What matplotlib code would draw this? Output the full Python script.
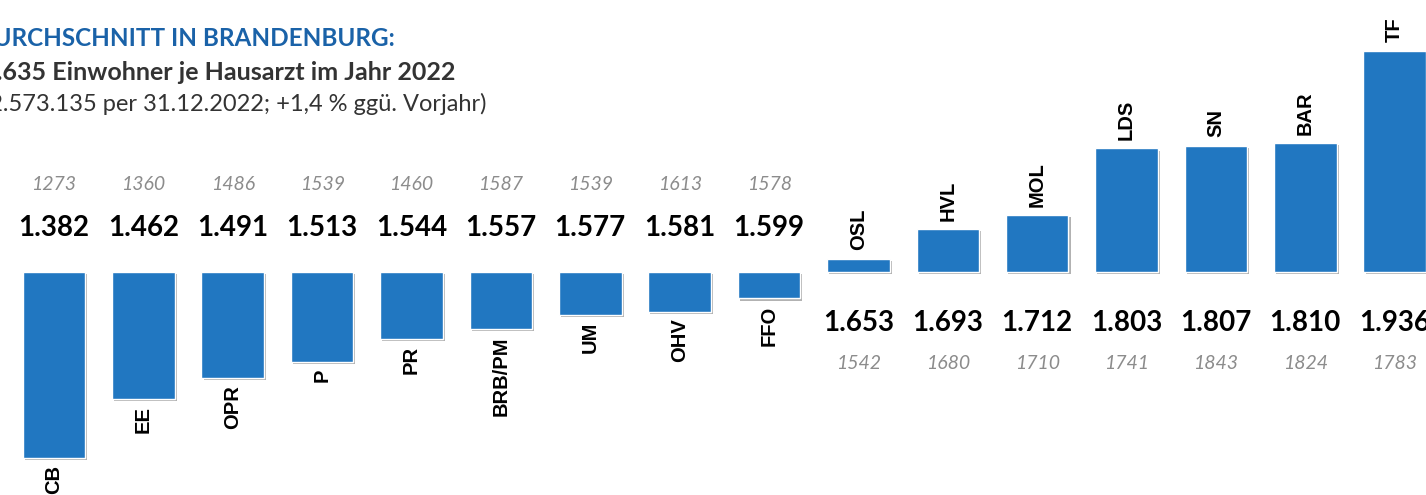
import numpy as np
import matplotlib.pyplot as plt
from matplotlib import patheffects as pe

# Einwohner je Hausarzt 2022 nach Landkreis / kreisfreier Stadt
kreise = ['CB', 'EE', 'OPR', 'P', 'PR', 'BRB/PM', 'UM', 'OHV', 'FFO',
          'OSL', 'HVL', 'MOL', 'LDS', 'SN', 'BAR', 'TF']
werte_2022 = [1382, 1462, 1491, 1513, 1544, 1557, 1577, 1581, 1599,
              1653, 1693, 1712, 1803, 1807, 1810, 1936]
werte_vorjahr = [1273, 1360, 1486, 1539, 1460, 1587, 1539, 1613, 1578,
                 1542, 1680, 1710, 1741, 1843, 1824, 1783]
durchschnitt = 1635

titel = 'DURCHSCHNITT IN BRANDENBURG:'
zeile2 = '1.635 Einwohner je Hausarzt im Jahr 2022'
zeile3 = '(2.573.135 per 31.12.2022; +1,4 % ggü. Vorjahr)'

blau = '#2177c1'
grau = '#8c8c8c'

fig = plt.figure(figsize=(14.26, 4.95), dpi=100)
ax = fig.add_axes([0, 0, 1, 1])
ax.set_xlim(-0.604, 15.35)
ax.set_ylim(1331.6, 2005)
ax.axis('off')

x = np.arange(len(kreise))
hoehe = [v - durchschnitt for v in werte_2022]
bars = ax.bar(x, hoehe, bottom=durchschnitt, width=0.7, color=blau,
              edgecolor='white', linewidth=1.0)
for b in bars:
    b.set_path_effects([pe.SimplePatchShadow(offset=(1.5, -1.5), shadow_rgbFace='#555555', alpha=0.45),
                        pe.Normal()])

def fmt(v):
    return f'{v:,}'.replace(',', '.')

for i, (name, v, vj) in enumerate(zip(kreise, werte_2022, werte_vorjahr)):
    if v < durchschnitt:
        ax.annotate(name, (i, v), xytext=(0, -5), textcoords='offset points',
                    rotation=90, ha='center', va='top', fontsize=14.5,
                    fontweight='bold', family='Liberation Sans')
        y_wert, y_vj = 1695, 1754
    else:
        ax.annotate(name, (i, v), xytext=(0, 6), textcoords='offset points',
                    rotation=90, ha='center', va='bottom', fontsize=14.5,
                    fontweight='bold', family='Liberation Sans')
        y_wert, y_vj = 1566, 1510
    ax.text(i, y_wert, fmt(v), ha='center', va='center', fontsize=20,
            fontweight='bold', family='Lato', color='black')
    ax.text(i, y_vj, str(vj), ha='center', va='center', fontsize=14,
            style='italic', family='Lato', color=grau)

fig.text(395 / 1426, 1 - 38 / 495, titel, ha='right', va='center', fontsize=17.5,
         fontweight='bold', family='Lato', color='#1a62a8')
fig.text(455 / 1426, 1 - 72 / 495, zeile2, ha='right', va='center', fontsize=18,
         fontweight='bold', family='Lato', color='#333333')
fig.text(487 / 1426, 1 - 104 / 495, zeile3, ha='right', va='center', fontsize=17,
         family='Lato', color='#333333')

fig.savefig('out.png', dpi=100)
